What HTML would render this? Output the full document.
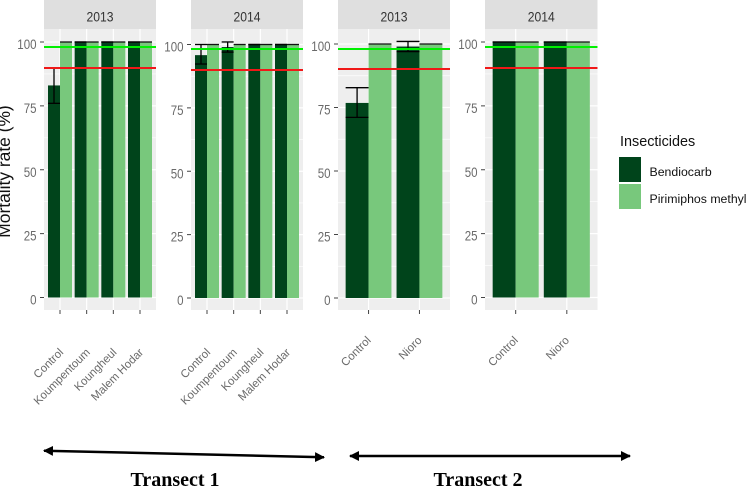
<!DOCTYPE html>
<html lang="en">
<head>
<meta charset="utf-8">
<title>Mortality rate by insecticide</title>
<style>
  html, body { margin: 0; padding: 0; background: #fff; }
  body { width: 746px; height: 487px; overflow: hidden; }
  svg { display: block; font-family: "Liberation Sans", sans-serif; }
</style>
</head>
<body>
<svg id="chart" width="746" height="487" viewBox="0 0 746 487" xmlns="http://www.w3.org/2000/svg">
  <defs>
    <marker id="arrow-head-end" markerWidth="10" markerHeight="10" refX="9" refY="5" orient="auto" markerUnits="userSpaceOnUse">
      <path d="M0,0 L10,5 L0,10 Z" fill="#000"></path>
    </marker>
    <marker id="arrow-head-start" markerWidth="10" markerHeight="10" refX="1" refY="5" orient="auto" markerUnits="userSpaceOnUse">
      <path d="M10,0 L0,5 L10,10 Z" fill="#000"></path>
    </marker>
  </defs>
  <g id="panels"></g>

  <text x="10" y="171.5" transform="rotate(-90 10 171.5)" text-anchor="middle" font-size="17.4" fill="#111">Mortality rate (%)</text>

  <g>
    <text x="620" y="146" font-size="14.4" fill="#111">Insecticides</text>
    <rect x="619" y="157" width="22" height="25" fill="#00441B"></rect>
    <text x="649.5" y="176" font-size="12.3" fill="#111">Bendiocarb</text>
    <rect x="619" y="184" width="22" height="25" fill="#78C87C"></rect>
    <text x="649.5" y="203" font-size="12.3" fill="#111">Pirimiphos methyl</text>
  </g>

  <line x1="44" y1="450.7" x2="324" y2="457.3" stroke="#000" stroke-width="2.5" marker-start="url(#arrow-head-start)" marker-end="url(#arrow-head-end)"></line>
  <line x1="350" y1="456" x2="630" y2="456" stroke="#000" stroke-width="2.5" marker-start="url(#arrow-head-start)" marker-end="url(#arrow-head-end)"></line>
  <text x="175" y="486" text-anchor="middle" font-family="'Liberation Serif', serif" font-weight="bold" font-size="20" fill="#000">Transect 1</text>
  <text x="478" y="486" text-anchor="middle" font-family="'Liberation Serif', serif" font-weight="bold" font-size="20" fill="#000">Transect 2</text>
</svg>

<script>
// ---- Data ----
const panelYears = ["2013", "2014", "2013", "2014"];
const panel1Sites = ["Control", "Koumpentoum", "Koungheul", "Malem Hodar"];
const panel2Sites = ["Control", "Koumpentoum", "Koungheul", "Malem Hodar"];
const panel3Sites = ["Control", "Nioro"];
const panel4Sites = ["Control", "Nioro"];

const panel1Bendiocarb = [83, 100, 100, 100];
const panel2Bendiocarb = [95.8, 99, 100, 100];
const panel3Bendiocarb = [76.8, 99];
const panel4Bendiocarb = [100, 100];

const panel1Pirimiphos = [100, 100, 100, 100];
const panel2Pirimiphos = [100, 100, 100, 100];
const panel3Pirimiphos = [100, 100];
const panel4Pirimiphos = [100, 100];

const panel1ErrLow = [76, 100, 100, 100];
const panel2ErrLow = [92.3, 97, 100, 100];
const panel3ErrLow = [71.1, 97];
const panel4ErrLow = [100, 100];

const panel1ErrHigh = [89.8, 100, 100, 100];
const panel2ErrHigh = [100, 101, 100, 100];
const panel3ErrHigh = [82.8, 101];
const panel4ErrHigh = [100, 100];

const yTickValues = [0, 25, 50, 75, 100];
const yMinorValues = [12.5, 37.5, 62.5, 87.5];
const greenThreshold = 98.2;
const redThreshold = 90;

// ---- Layout (not data) ----
const colours = { dark: "#00441B", light: "#78C87C", panel: "#EEEEEE", strip: "#DFDFDF" };
const layouts = [
  { left: 44, width: 112, y0: 297.5, y100: 42, labelX: 4, labelY: 353 },
  { left: 191, width: 112, y0: 298, y100: 44.5, labelX: 4, labelY: 353 },
  { left: 338, width: 112, y0: 298, y100: 44, labelX: 3, labelY: 341 },
  { left: 485, width: 112.5, y0: 297.5, y100: 42, labelX: 3, labelY: 341 }
];
const panelTop = 29, panelBottom = 310, stripTop = 0;

const sitesByPanel = [panel1Sites, panel2Sites, panel3Sites, panel4Sites];
const bendiocarbByPanel = [panel1Bendiocarb, panel2Bendiocarb, panel3Bendiocarb, panel4Bendiocarb];
const pirimiphosByPanel = [panel1Pirimiphos, panel2Pirimiphos, panel3Pirimiphos, panel4Pirimiphos];
const errLowByPanel = [panel1ErrLow, panel2ErrLow, panel3ErrLow, panel4ErrLow];
const errHighByPanel = [panel1ErrHigh, panel2ErrHigh, panel3ErrHigh, panel4ErrHigh];

const SVG_NS = "http://www.w3.org/2000/svg";
const root = document.getElementById("panels");

function shape(parent, tag, attrs, text) {
  const el = document.createElementNS(SVG_NS, tag);
  for (const key in attrs) el.setAttribute(key, attrs[key]);
  if (text !== undefined) el.textContent = text;
  parent.appendChild(el);
  return el;
}

function bandStep(layout, count) { return layout.width / (count - 1 + 1.2); }
function xScale(layout, count, index) { return layout.left + (index + 0.6) * bandStep(layout, count); }
function yScale(layout, value) { return layout.y0 - value * (layout.y0 - layout.y100) / 100; }

panelYears.forEach(function (year, p) {
  const L = layouts[p];
  const sites = sitesByPanel[p];
  const n = sites.length;
  const step = bandStep(L, n);
  const half = step * 0.45;
  const right = L.left + L.width;

  const g = shape(root, "g", {});
  
  

  const strip = shape(g, "rect", { x: L.left, y: stripTop, width: L.width, height: panelTop - stripTop, fill: colours.strip });
  
  

  const stripLabel = shape(g, "text", { x: L.left + L.width / 2, y: 21.5, "text-anchor": "middle", "font-size": 13.5, textLength: 27, lengthAdjust: "spacingAndGlyphs", fill: "#333" }, year);
  
  

  const bg = shape(g, "rect", { x: L.left, y: panelTop, width: L.width, height: panelBottom - panelTop, fill: colours.panel });
  
  

  yMinorValues.forEach(function (v) {
    const minor = shape(g, "line", { x1: L.left, x2: right, y1: yScale(L, v), y2: yScale(L, v), stroke: "#fff", "stroke-width": 0.7 });
    
    
  });

  yTickValues.forEach(function (v) {
    const y = yScale(L, v);
    const major = shape(g, "line", { x1: L.left, x2: right, y1: y, y2: y, stroke: "#fff", "stroke-width": 1.2 });
    
    

    const tick = shape(g, "line", { x1: L.left - 4, x2: L.left, y1: y, y2: y, stroke: "#444", "stroke-width": 1 });
    
    

    const labelText = String(v);
    const label = shape(g, "text", { x: L.left - 7.5, y: y + 7, "text-anchor": "end", "font-size": 13.4, textLength: labelText.length * 6.4, lengthAdjust: "spacingAndGlyphs", fill: "#6a6a6a" }, labelText);
    
    
  });

  sites.forEach(function (site, i) {
    const x = xScale(L, n, i);

    const gridV = shape(g, "line", { x1: x, x2: x, y1: panelTop, y2: panelBottom, stroke: "#fff", "stroke-width": 1.2 });
    
    

    const darkBar = shape(g, "rect", {
      x: x - half, width: half,
      y: yScale(L, bendiocarbByPanel[p][i]),
      height: yScale(L, 0) - yScale(L, bendiocarbByPanel[p][i]),
      fill: colours.dark
    });
    
    

    const lightBar = shape(g, "rect", {
      x: x, width: half,
      y: yScale(L, pirimiphosByPanel[p][i]),
      height: yScale(L, 0) - yScale(L, pirimiphosByPanel[p][i]),
      fill: colours.light
    });
    
    

    const tickX = shape(g, "line", { x1: x, x2: x, y1: panelBottom, y2: panelBottom + 4, stroke: "#444", "stroke-width": 1 });
    
    

    const lx = x + L.labelX, ly = L.labelY;
    const siteLabel = shape(g, "text", { x: lx, y: ly, "text-anchor": "end", "font-size": 11.4, fill: "#6a6a6a", transform: "rotate(-45 " + lx + " " + ly + ")" }, site);
    
    
  });

  // Error bars drawn over the bars, centred on the Bendiocarb bar of each pair
  sites.forEach(function (site, i) {
    const x = xScale(L, n, i);
    const cx = x - half / 2;
    const low = yScale(L, errLowByPanel[p][i]);
    const high = yScale(L, errHighByPanel[p][i]);

    const stem = shape(g, "line", { x1: cx, x2: cx, y1: low, y2: high, stroke: "#000", "stroke-width": 1.3 });
    
    

    const capLow = shape(g, "line", { x1: x - half, x2: x, y1: low, y2: low, stroke: "#000", "stroke-width": 1.3 });
    
    

    const capHigh = shape(g, "line", { x1: x - half, x2: x, y1: high, y2: high, stroke: "#000", "stroke-width": 1.3 });
    
    

    const capLight = shape(g, "line", { x1: x, x2: x + half, y1: yScale(L, pirimiphosByPanel[p][i]), y2: yScale(L, pirimiphosByPanel[p][i]), stroke: "#111", "stroke-width": 1.3 });
    
    
  });

  const greenY = Math.round(yScale(L, greenThreshold));
  const green = shape(g, "line", { x1: L.left, x2: right, y1: greenY, y2: greenY, stroke: "#00F000", "stroke-width": 2 });
  
  

  const redY = Math.round(yScale(L, redThreshold));
  const red = shape(g, "line", { x1: L.left, x2: right, y1: redY, y2: redY, stroke: "#F01818", "stroke-width": 2 });
  
  
});
</script>
</body>
</html>
